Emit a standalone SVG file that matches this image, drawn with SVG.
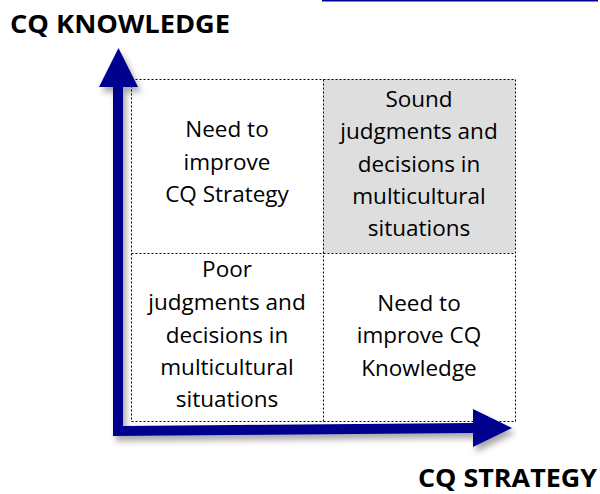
<svg xmlns="http://www.w3.org/2000/svg" width="600" height="494" viewBox="0 0 600 494">
  <defs>
    <filter id="shadow" x="-20%" y="-20%" width="140%" height="140%">
      <feDropShadow dx="3" dy="5" stdDeviation="3" flood-color="#000" flood-opacity="0.35"/>
    </filter>
  </defs>
  <style>
    .grid { fill: none; stroke: #000; stroke-width: 1; stroke-dasharray: 2 2; }
    .cell { font-family: "Open Sans", "Liberation Sans", Arial, sans-serif; font-size: 22.5px; fill: #000; text-anchor: middle; }
    .title { font-family: "Open Sans", "Liberation Sans", Arial, sans-serif; font-size: 25px; font-weight: bold; fill: #000; }
    .axis { fill: #00008F; }
  </style>
  <rect width="600" height="494" fill="#fff"/>
  <line x1="322" y1="0.75" x2="598" y2="0.75" stroke="#00008F" stroke-width="1.5"/>

  <g id="cell-top-right">
    <rect x="323" y="79" width="192" height="174" fill="#DEDEDE"/>
    <text class="cell" x="419" y="107">Sound</text>
    <text class="cell" x="419" y="139">judgments and</text>
    <text class="cell" x="419" y="172">decisions in</text>
    <text class="cell" x="419" y="204">multicultural</text>
    <text class="cell" x="419" y="236">situations</text>
  </g>
  <g id="cell-top-left">
    <text class="cell" x="227" y="137">Need to</text>
    <text class="cell" x="227" y="170">improve</text>
    <text class="cell" x="227" y="202">CQ Strategy</text>
  </g>
  <g id="cell-bottom-left">
    <text class="cell" x="227" y="277">Poor</text>
    <text class="cell" x="227" y="310">judgments and</text>
    <text class="cell" x="227" y="343">decisions in</text>
    <text class="cell" x="227" y="375">multicultural</text>
    <text class="cell" x="227" y="407">situations</text>
  </g>
  <g id="cell-bottom-right">
    <text class="cell" x="419" y="311">Need to</text>
    <text class="cell" x="419" y="343">improve CQ</text>
    <text class="cell" x="419" y="376">Knowledge</text>
  </g>
  <g id="grid">
    <rect class="grid" x="131.5" y="79.5" width="384" height="342"/>
    <line class="grid" x1="323.5" y1="79.5" x2="323.5" y2="421.5"/>
    <line class="grid" x1="131.5" y1="253.5" x2="515.5" y2="253.5"/>
  </g>

  <g id="connectors" filter="url(#shadow)">
    <path class="axis" d="M113,87 L99,87 L118.5,48 L138,87 L123,87 L123,426 L473,423 L473,409 L512,428 L473,447 L473,433 L113,436 Z"/>
  </g>

  <text class="title" x="10" y="33" textLength="220" lengthAdjust="spacingAndGlyphs">CQ KNOWLEDGE</text>
  <text class="title" x="418" y="487" textLength="179" lengthAdjust="spacingAndGlyphs">CQ STRATEGY</text>
</svg>
